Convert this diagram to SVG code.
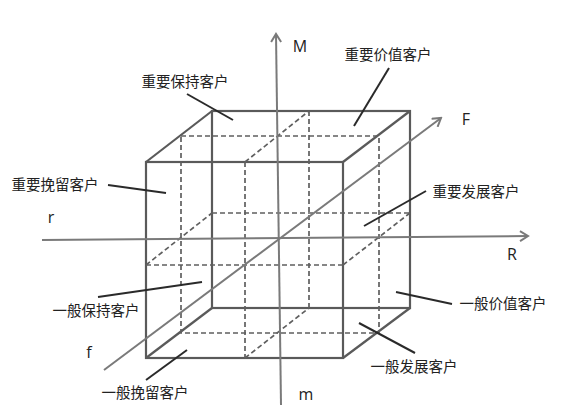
<svg xmlns="http://www.w3.org/2000/svg" width="563" height="420" viewBox="0 0 563 420">
<style>
.solid{stroke:#5a5a5a;stroke-width:2.2;fill:none}
.dash{stroke:#5f5f5f;stroke-width:1.7;fill:none;stroke-dasharray:5 3}
.axis{stroke:#7a7a7a;stroke-width:2;fill:none}
.lead{stroke:#2a2a2a;stroke-width:2;fill:none}
.cn{font-family:"Noto Sans CJK SC","Noto Sans",sans-serif;font-size:14.5px;fill:#222;text-anchor:middle}
.lt{font-family:"Open Sans","Liberation Sans",sans-serif;font-size:16px;fill:#222;text-anchor:middle}
</style>
<defs>
<marker id="arr" markerWidth="12" markerHeight="12" refX="10" refY="6" orient="auto" markerUnits="userSpaceOnUse">
<polyline points="2,1 10,6 2,11" fill="none" stroke="#7a7a7a" stroke-width="2"/>
</marker>
</defs>
<rect width="563" height="420" fill="#fff"/>
<g id="cube">
<rect class="solid" x="212" y="111" width="198" height="197"/>
<rect class="solid" x="146" y="162" width="197" height="196"/>
<line class="solid" x1="146" y1="162" x2="212" y2="111"/>
<line class="solid" x1="343" y1="162" x2="410" y2="111"/>
<line class="solid" x1="343" y1="358" x2="410" y2="308"/>
<line class="solid" x1="146" y1="358" x2="212" y2="308"/>
<rect class="dash" x="181" y="136" width="198" height="197"/>
<line class="dash" x1="212" y1="213" x2="410" y2="213"/>
<line class="dash" x1="146" y1="265" x2="343" y2="265"/>
<line class="dash" x1="146" y1="265" x2="212" y2="213"/>
<line class="dash" x1="343" y1="265" x2="410" y2="213"/>
<line class="dash" x1="245" y1="162" x2="245" y2="358"/>
<line class="dash" x1="309" y1="111" x2="309" y2="308"/>
<line class="dash" x1="245" y1="162" x2="309" y2="111"/>
<line class="dash" x1="245" y1="358" x2="309" y2="308"/>
</g>
<g id="axes">
<line class="axis" x1="281" y1="405" x2="276" y2="34" marker-end="url(#arr)"/>
<line class="axis" x1="42" y1="240" x2="528" y2="236" marker-end="url(#arr)"/>
<line class="axis" x1="104" y1="370" x2="441" y2="118" marker-end="url(#arr)"/>
<text class="lt" x="300" y="52">M</text>
<text class="lt" x="306" y="400">m</text>
<text class="lt" x="512" y="260">R</text>
<text class="lt" x="51" y="223">r</text>
<text class="lt" x="466" y="125">F</text>
<text class="lt" x="89" y="358">f</text>
</g>
<g id="connectors">
<line class="lead" x1="187" y1="94" x2="233" y2="120"/>
<line class="lead" x1="389" y1="68" x2="354" y2="126"/>
<line class="lead" x1="108" y1="185" x2="166" y2="193"/>
<line class="lead" x1="426" y1="191" x2="364" y2="226"/>
<line class="lead" x1="98" y1="297" x2="202" y2="282"/>
<line class="lead" x1="452" y1="304" x2="396" y2="292"/>
<line class="lead" x1="359" y1="323" x2="415" y2="353"/>
<line class="lead" x1="146" y1="380" x2="187" y2="350"/>
</g>
<g id="n1"><text class="cn" x="185" y="87">重要保持客户</text></g>
<g id="n2"><text class="cn" x="388" y="60">重要价值客户</text></g>
<g id="n3"><text class="cn" x="55" y="190">重要挽留客户</text></g>
<g id="n4"><text class="cn" x="476" y="197">重要发展客户</text></g>
<g id="n5"><text class="cn" x="96" y="316">一般保持客户</text></g>
<g id="n6"><text class="cn" x="503" y="309">一般价值客户</text></g>
<g id="n7"><text class="cn" x="414" y="372">一般发展客户</text></g>
<g id="n8"><text class="cn" x="145" y="398">一般挽留客户</text></g>
</svg>
